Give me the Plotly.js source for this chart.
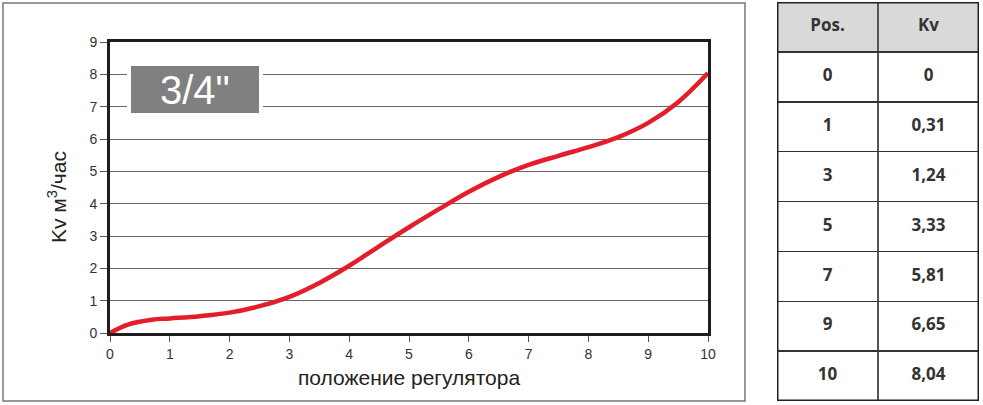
<!DOCTYPE html>
<html>
<head>
<meta charset="utf-8">
<script src="https://cdn.plot.ly/plotly-3.0.1.min.js"></script>
<style>
html,body{margin:0;padding:0;background:#fff;}
#chart{width:983px;height:405px;}
</style>
</head>
<body>
<div id="chart"></div>
<script>
// Curve readings (position -> Kv)
const curveX = [0, 0.3, 0.7, 1, 1.5, 2, 2.5, 3, 3.5, 4, 4.5, 5, 5.5, 6, 6.5, 7, 7.5, 8, 8.5, 9, 9.5, 10];
const curveY = [0, 0.26, 0.41, 0.45, 0.52, 0.63, 0.83, 1.12, 1.55, 2.08, 2.68, 3.27, 3.83, 4.37, 4.83, 5.2, 5.48, 5.75, 6.06, 6.5, 7.14, 8.04];

// Table
const tableHeader = ["Pos.", "Kv"];
const tablePos = ["0", "1", "3", "5", "7", "9", "10"];
const tableKv = ["0", "0,31", "1,24", "3,33", "5,81", "6,65", "8,04"];

const xTicks = [0,1,2,3,4,5,6,7,8,9,10];
const yTicks = [0,1,2,3,4,5,6,7,8,9];
const sizeLabel = '3/4"';
const xTitle = "положение регулятора";
const yTitle = "Kv м<sup>3</sup>/час";

const W = 983, H = 405;
const px = v => v / W;
const py = v => 1 - v / H;

const curve = {
  type: 'scatter', mode: 'lines',
  x: curveX, y: curveY,
  line: {color: '#e31e2a', width: 4.5, shape: 'spline', smoothing: 1.1},
  hoverinfo: 'skip', showlegend: false, cliponaxis: false
};

// table built on its own axes: column index / row index
const tColX = [], tRowY = [], tText = [];
const allRows = [tableHeader].concat(tablePos.map((p, i) => [p, tableKv[i]]));
allRows.forEach((row, r) => {
  row.forEach((v, c) => {
    tColX.push(c + 0.5);
    tRowY.push(r + 0.5);
    tText.push('<b>' + v + '</b>');
  });
});
const nRows = allRows.length;
const rowBounds = Array.from({length: nRows + 1}, (_, i) => i);

const tableTrace = {
  type: 'scatter', mode: 'text',
  x: tColX, y: tRowY, text: tText,
  xaxis: 'x2', yaxis: 'y2',
  textposition: 'middle center',
  textfont: {family: 'Open Sans', size: 17, color: '#333'},
  hoverinfo: 'skip', showlegend: false, cliponaxis: false
};

const layout = {
  width: W, height: H,
  margin: {l: 0, r: 0, t: 0, b: 0},
  paper_bgcolor: '#fff', plot_bgcolor: '#fff',
  showlegend: false,
  font: {family: 'Liberation Sans, Arial, sans-serif', color: '#333'},
  xaxis: {
    domain: [px(110), px(708)],
    range: [0, 10], tickvals: xTicks, ticktext: xTicks.map(String),
    showgrid: false, zeroline: false,
    showline: true, mirror: true, linecolor: '#1e1e1e', linewidth: 3,
    ticks: 'outside', ticklen: 6, tickwidth: 1, tickcolor: '#555',
    tickfont: {size: 14, color: '#333'},
    title: {text: xTitle, font: {size: 21, color: '#222'}, standoff: 10},
    fixedrange: true
  },
  yaxis: {
    domain: [py(333), py(42)],
    range: [0, 9], tickvals: yTicks, ticktext: yTicks.map(String),
    showgrid: true, gridcolor: '#666', gridwidth: 1,
    zeroline: false,
    showline: true, mirror: true, linecolor: '#1e1e1e', linewidth: 3,
    ticks: 'outside', ticklen: 7, tickwidth: 1, tickcolor: '#555',
    tickfont: {size: 14, color: '#333'},
    fixedrange: true
  },
  xaxis2: {
    domain: [px(777), px(979)], anchor: 'y2',
    range: [0, 2], tickvals: [1], showticklabels: false, ticks: '',
    showgrid: true, gridcolor: '#555', gridwidth: 1.5,
    zeroline: false, showline: false, fixedrange: true
  },
  yaxis2: {
    domain: [py(401), py(2)], anchor: 'x2',
    range: [nRows, 0], tickvals: rowBounds.slice(1, -1), showticklabels: false, ticks: '',
    showgrid: true, gridcolor: '#333', gridwidth: 1.5,
    zeroline: false, showline: false, fixedrange: true
  },
  shapes: [
    {type: 'rect', xref: 'paper', yref: 'paper',
     x0: px(3), x1: px(745), y0: py(401), y1: py(3),
     line: {color: '#777', width: 1.5}, fillcolor: 'rgba(0,0,0,0)', layer: 'below'},
    {type: 'rect', xref: 'paper', yref: 'paper',
     x0: px(129), x1: px(261), y0: py(115), y1: py(64),
     line: {color: '#fff', width: 4}, fillcolor: '#808080', layer: 'above'},
    // table header fill
    {type: 'rect', xref: 'x2', yref: 'y2', x0: 0, x1: 2, y0: 0, y1: 1,
     line: {width: 0}, fillcolor: '#d9d9d9', layer: 'below'},
    // table outer frame
    {type: 'rect', xref: 'x2', yref: 'y2', x0: 0, x1: 2, y0: 0, y1: nRows,
     line: {color: '#222', width: 3}, fillcolor: 'rgba(0,0,0,0)', layer: 'above'}
  ],
  annotations: [
    {xref: 'paper', yref: 'paper', x: px(195), y: py(90), text: sizeLabel,
     showarrow: false, xanchor: 'center', yanchor: 'middle',
     font: {family: 'Liberation Sans, Arial, sans-serif', size: 40, color: '#fff'}},
    {xref: 'paper', yref: 'paper', x: px(57), y: py(197), text: yTitle,
     showarrow: false, xanchor: 'center', yanchor: 'middle', textangle: -90,
     font: {family: 'Liberation Sans, Arial, sans-serif', size: 21, color: '#222'}}
  ]
};

Plotly.newPlot('chart', [curve, tableTrace], layout, {displayModeBar: false, staticPlot: true});
</script>
</body>
</html>
